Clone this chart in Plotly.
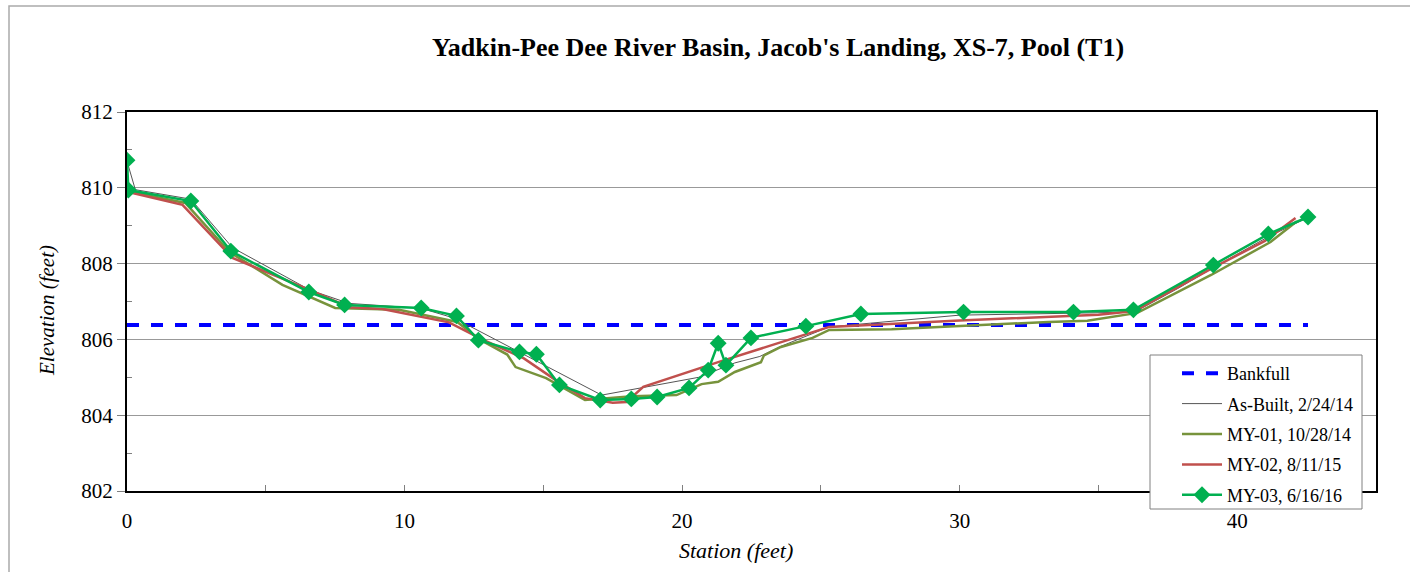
import plotly.graph_objects as go

title = "Yadkin-Pee Dee River Basin, Jacob's Landing, XS-7, Pool (T1)"
x_title = "Station (feet)"
y_title = "Elevation (feet)"

bank_x = [0.0, 42.55]
bank_y = [806.38, 806.38]

ab_x = [0.0, 0.3, 2.3, 3.8, 6.6, 8.0, 10.6, 11.8, 17.1, 20.6, 21.9, 22.8, 23.5, 25.3, 30.0, 35.0, 36.3, 37.9, 39.2, 41.1, 42.5]
ab_y = [810.7, 809.95, 809.7, 808.42, 807.3, 806.95, 806.82, 806.56, 804.53, 805.0, 805.38, 805.55, 805.8, 806.33, 806.64, 806.69, 806.72, 807.36, 807.92, 808.7, 809.2]

my1_x = [0.0, 0.05, 2.1, 3.7, 5.6, 7.5, 9.8, 11.9, 12.7, 13.7, 14.0, 15.1, 16.5, 18.2, 19.8, 20.7, 21.3, 21.9, 22.84, 22.95, 23.56, 24.7, 25.3, 27.55, 33.2, 34.6, 36.4, 39.06, 41.2, 42.15]
my1_y = [809.95, 809.9, 809.6, 808.3, 807.44, 806.83, 806.78, 806.46, 806.0, 805.6, 805.27, 804.98, 804.4, 804.5, 804.53, 804.82, 804.88, 805.14, 805.4, 805.58, 805.8, 806.04, 806.25, 806.27, 806.46, 806.49, 806.7, 807.7, 808.57, 809.12]

my2_x = [0.0, 2.0, 3.8, 6.6, 8.0, 9.2, 11.6, 12.8, 14.3, 15.5, 16.5, 17.5, 18.0, 18.6, 21.3, 25.3, 30.0, 35.0, 36.3, 39.1, 41.0, 42.1]
my2_y = [809.9, 809.55, 808.15, 807.3, 806.85, 806.8, 806.45, 806.0, 805.5, 804.9, 804.45, 804.33, 804.35, 804.75, 805.4, 806.33, 806.5, 806.65, 806.75, 807.88, 808.6, 809.2]

my3_x = [0.0, 0.05, 2.3, 3.74, 6.55, 7.84, 10.6, 11.87, 12.66, 14.14, 14.75, 15.58, 17.05, 18.17, 19.1, 20.25, 20.94, 21.3, 21.58, 22.48, 24.46, 26.44, 30.14, 34.1, 36.26, 39.14, 41.12, 42.55]
my3_y = [810.73, 809.94, 809.65, 808.33, 807.25, 806.91, 806.83, 806.62, 805.98, 805.67, 805.61, 804.8, 804.4, 804.43, 804.48, 804.72, 805.19, 805.9, 805.32, 806.04, 806.35, 806.67, 806.72, 806.72, 806.78, 807.96, 808.78, 809.23]

FONT = "Liberation Serif, Times New Roman, serif"

# plot area in page pixels
L, R, T, B = 127, 1376, 112, 491
W, H = 1410, 572
PW, PH = R - L, B - T


def px(xp):
    return (xp - L) / PW


def py(yp):
    return (B - yp) / PH


fig = go.Figure()
fig.add_trace(go.Scatter(x=bank_x, y=bank_y, mode="lines", name="Bankfull",
                         line=dict(color="#0000FF", width=4, dash="dash"), legendgroup="a"))
fig.add_trace(go.Scatter(x=ab_x, y=ab_y, mode="lines", name="As-Built, 2/24/14",
                         line=dict(color="#555555", width=1), legendgroup="b"))
fig.add_trace(go.Scatter(x=my1_x, y=my1_y, mode="lines", name="MY-01, 10/28/14",
                         line=dict(color="#77933C", width=2.5), legendgroup="c"))
fig.add_trace(go.Scatter(x=my2_x, y=my2_y, mode="lines", name="MY-02, 8/11/15",
                         line=dict(color="#C0504D", width=2.5), legendgroup="d"))
fig.add_trace(go.Scatter(x=my3_x, y=my3_y, mode="lines+markers", name="MY-03, 6/16/16",
                         line=dict(color="#00B050", width=2.5),
                         marker=dict(symbol="diamond", size=13, color="#00B050"), legendgroup="e"))

fig.update_layout(
    width=W, height=H,
    margin=dict(l=L, r=W - R, t=T, b=H - B),
    paper_bgcolor="white", plot_bgcolor="white",
    font=dict(family=FONT, size=21, color="black"),
    title=dict(text="<b>" + title + "</b>", x=778 / W, xanchor="center", y=1 - 47 / H, yanchor="middle",
               font=dict(family=FONT, size=26, color="black")),
    showlegend=True,
    legend=dict(x=px(1177), y=py(355), xanchor="left", yanchor="top",
                bgcolor="rgba(0,0,0,0)", borderwidth=0,
                font=dict(family=FONT, size=18, color="black"),
                tracegroupgap=4, itemwidth=40),
    xaxis=dict(range=[0, 45], tickvals=[0, 10, 20, 30, 40], showgrid=False, zeroline=False,
               showline=True, linecolor="black", linewidth=2, mirror=True,
               ticks="inside", ticklen=6, tickcolor="#808080", ticklabelstandoff=10,
               minor=dict(tickvals=[5, 15, 25, 35], ticks="inside", ticklen=6, tickcolor="#808080"),
               tickfont=dict(family=FONT, size=21)),
    yaxis=dict(range=[802, 812], tickvals=[802, 804, 806, 808, 810, 812], showgrid=True,
               gridcolor="#999999", gridwidth=1, zeroline=False,
               showline=True, linecolor="black", linewidth=2, mirror=True,
               ticks="outside", ticklen=8, tickcolor="#808080",
               minor=dict(tickvals=[803, 805, 807, 809, 811], ticks="inside", ticklen=5, tickcolor="#808080"),
               tickfont=dict(family=FONT, size=21)),
    annotations=[
        dict(text="<i>" + x_title + "</i>", xref="paper", yref="paper", x=px(736), y=py(550),
             xanchor="center", yanchor="middle", showarrow=False,
             font=dict(family=FONT, size=22, color="black")),
        dict(text="<i>" + y_title + "</i>", xref="paper", yref="paper", x=px(47), y=py(311),
             xanchor="center", yanchor="middle", showarrow=False, textangle=-90,
             font=dict(family=FONT, size=21, color="black")),
    ],
    shapes=[
        dict(type="rect", xref="paper", yref="paper",
             x0=px(9), x1=px(1430), y0=py(600), y1=py(6),
             line=dict(color="#AAAAAA", width=1.5), layer="below"),
        dict(type="rect", xref="paper", yref="paper",
             x0=px(1150), x1=px(1362), y0=py(509), y1=py(355),
             line=dict(color="#808080", width=1), fillcolor="white", layer="above"),
    ],
)

fig.write_html("out.html", post_script="document.body.style.margin='0';",
               config={"displayModeBar": False})
